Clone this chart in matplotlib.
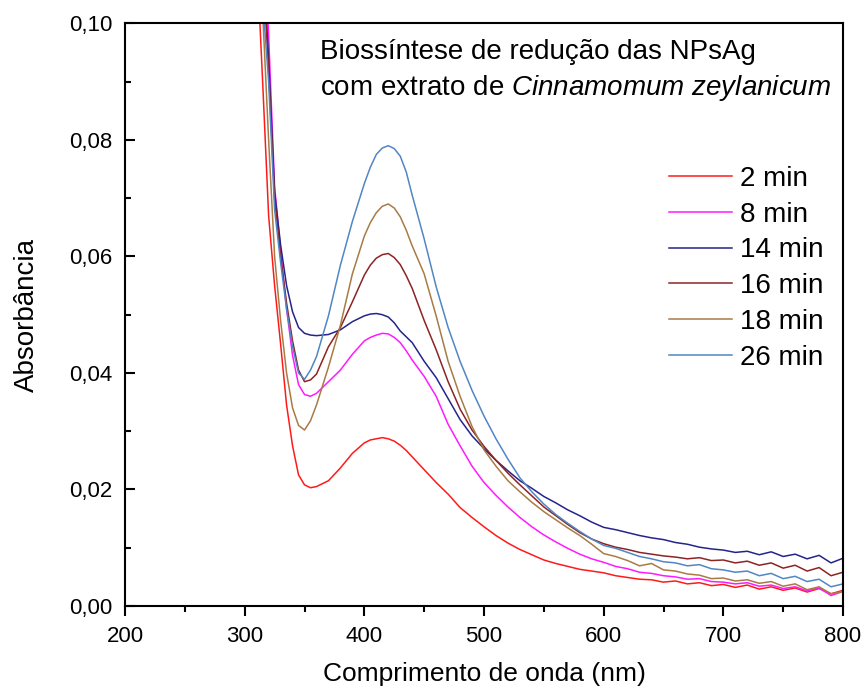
import matplotlib
matplotlib.use("Agg")
import matplotlib.pyplot as plt
from matplotlib.ticker import MultipleLocator, FuncFormatter

plt.rcParams['font.family'] = ['Liberation Sans', 'DejaVu Sans']
plt.rcParams['mathtext.fontset'] = 'custom'
plt.rcParams['mathtext.rm'] = 'Liberation Sans'
plt.rcParams['mathtext.it'] = 'Liberation Sans:italic'

# wavelength grid (nm)
wl = [300, 305, 310, 315, 320, 325, 330, 335, 340, 345, 350, 355, 360,
      370, 380, 390, 400, 405, 410, 415, 420, 425, 430, 435, 440, 450, 460, 470, 480, 490, 500,
      510, 520, 530, 540, 550, 560, 570, 580, 590, 600,
      610, 620, 630, 640, 650, 660, 670, 680, 690, 700,
      710, 720, 730, 740, 750, 760, 770, 780, 790, 800]

abs_2 = [0.160, 0.135, 0.112, 0.090, 0.067, 0.055, 0.045, 0.0345, 0.0275, 0.0225, 0.0208, 0.0203, 0.0205,
         0.0215, 0.0237, 0.0262, 0.0280, 0.0285, 0.0287, 0.0289, 0.0287, 0.0283, 0.0276, 0.0267, 0.0256,
         0.0234, 0.0212, 0.0192, 0.0169, 0.0152, 0.0136,
         0.0121, 0.0108, 0.0097, 0.0088, 0.0079, 0.0073, 0.0068, 0.0063, 0.0060, 0.0057,
         0.0052, 0.0049, 0.0046, 0.0045, 0.0041, 0.0043, 0.0038, 0.0040, 0.0035, 0.0037,
         0.0032, 0.0036, 0.0029, 0.0033, 0.0027, 0.0031, 0.0024, 0.0030, 0.0021, 0.0027]

abs_8 = [0.170, 0.148, 0.126, 0.118, 0.098, 0.072, 0.061, 0.051, 0.043, 0.038, 0.0363, 0.0360, 0.0365,
         0.0385, 0.0405, 0.0432, 0.0455, 0.0461, 0.0465, 0.0468, 0.0467, 0.0461, 0.0452, 0.0438, 0.0422,
         0.0394, 0.0360, 0.0312, 0.0275, 0.0240, 0.0212,
         0.0190, 0.0170, 0.0152, 0.0136, 0.0122, 0.0110, 0.0099, 0.0089, 0.0081, 0.0075,
         0.0068, 0.0064, 0.0058, 0.0056, 0.0052, 0.0050, 0.0046, 0.0047, 0.0042, 0.0041,
         0.0038, 0.0040, 0.0034, 0.0036, 0.0030, 0.0033, 0.0026, 0.0031, 0.0018, 0.0025]

abs_14 = [0.170, 0.145, 0.125, 0.112, 0.094, 0.071, 0.062, 0.055, 0.0505, 0.0478, 0.0468, 0.0465, 0.0464,
          0.0466, 0.0474, 0.0488, 0.0498, 0.0501, 0.0502, 0.0500, 0.0496, 0.0486, 0.0472, 0.0462, 0.0452,
          0.0420, 0.0392, 0.0356, 0.0320, 0.0292, 0.0270,
          0.0250, 0.0232, 0.0215, 0.0202, 0.0188, 0.0177, 0.0165, 0.0155, 0.0144, 0.0135,
          0.0131, 0.0126, 0.0121, 0.0117, 0.0114, 0.0109, 0.0106, 0.0101, 0.0098, 0.0096,
          0.0092, 0.0094, 0.0088, 0.0093, 0.0085, 0.0089, 0.0081, 0.0087, 0.0074, 0.0082]

abs_16 = [0.170, 0.145, 0.125, 0.110, 0.092, 0.070, 0.060, 0.052, 0.0455, 0.0405, 0.0385, 0.0388, 0.0398,
          0.0445, 0.0478, 0.0522, 0.0568, 0.0585, 0.0597, 0.0603, 0.0605, 0.0598, 0.0586, 0.0567, 0.0545,
          0.0490, 0.0440, 0.0385, 0.0338, 0.0302, 0.0274,
          0.0250, 0.0228, 0.0208, 0.0189, 0.0170, 0.0155, 0.0140, 0.0126, 0.0115, 0.0107,
          0.0101, 0.0097, 0.0092, 0.0089, 0.0086, 0.0084, 0.0081, 0.0083, 0.0078, 0.0079,
          0.0074, 0.0077, 0.0070, 0.0074, 0.0065, 0.0070, 0.0060, 0.0066, 0.0052, 0.0058]

abs_18 = [0.170, 0.140, 0.118, 0.102, 0.080, 0.060, 0.049, 0.040, 0.034, 0.031, 0.0302, 0.0318, 0.0345,
          0.0410, 0.0482, 0.0570, 0.0635, 0.0658, 0.0675, 0.0686, 0.0690, 0.0683, 0.0668, 0.0645, 0.0618,
          0.0570, 0.0498, 0.0420, 0.0360, 0.0308, 0.0268,
          0.0240, 0.0215, 0.0196, 0.0178, 0.0162, 0.0148, 0.0134, 0.0121, 0.0106, 0.0090,
          0.0085, 0.0078, 0.0069, 0.0073, 0.0062, 0.0060, 0.0055, 0.0053, 0.0047, 0.0048,
          0.0043, 0.0045, 0.0039, 0.0042, 0.0034, 0.0038, 0.0028, 0.0033, 0.0021, 0.0025]

abs_26 = [0.170, 0.145, 0.122, 0.104, 0.090, 0.068, 0.059, 0.051, 0.0445, 0.040, 0.0389, 0.0405, 0.0428,
          0.0498, 0.0585, 0.0660, 0.0725, 0.0753, 0.0775, 0.0786, 0.0790, 0.0785, 0.0772, 0.0745, 0.0705,
          0.0630, 0.0548, 0.0478, 0.0420, 0.0370, 0.0326,
          0.0287, 0.0252, 0.0220, 0.0196, 0.0175, 0.0157, 0.0142, 0.0128, 0.0115, 0.0104,
          0.0099, 0.0092, 0.0085, 0.0081, 0.0076, 0.0074, 0.0069, 0.0071, 0.0064, 0.0062,
          0.0058, 0.0060, 0.0052, 0.0056, 0.0047, 0.0051, 0.0042, 0.0046, 0.0033, 0.0038]

labels = ['2 min', '8 min', '14 min', '16 min', '18 min', '26 min']
series = [abs_2, abs_8, abs_14, abs_16, abs_18, abs_26]
colors = ['#ff1a1a', '#ff1aff', '#24248c', '#8c2424', '#a87b45', '#5186c4']

fig = plt.figure(figsize=(8.64, 6.90), dpi=100)
ax = fig.add_axes([0.1447, 0.1217, 0.831, 0.8445])

for y, c, lab in zip(series, colors, labels):
    ax.plot(wl, y, color=c, lw=1.1, label=lab)

ax.set_xlim(200, 800)
ax.set_ylim(0, 0.10)
ax.xaxis.set_major_locator(MultipleLocator(100))
ax.xaxis.set_minor_locator(MultipleLocator(50))
ax.yaxis.set_major_locator(MultipleLocator(0.02))
ax.yaxis.set_minor_locator(MultipleLocator(0.01))
ax.yaxis.set_major_formatter(FuncFormatter(lambda v, p: f'{v:.2f}'.replace('.', ',')))

for s in ax.spines.values():
    s.set_linewidth(1.5)
ax.tick_params(axis='x', which='both', direction='out', top=False, labelsize=16, pad=7)
ax.tick_params(axis='y', which='both', direction='in', right=False, labelsize=16, pad=9)
ax.tick_params(which='major', length=7.5, width=1.5)
ax.tick_params(which='minor', length=4, width=1.5)

ax.set_xlabel('Comprimento de onda (nm)', fontsize=19, labelpad=11)
ax.set_ylabel('Absorbância', fontsize=20, labelpad=21)

fig.text(320 / 864, 1 - 59 / 690, 'Biossíntese de redução das NPsAg',
         fontsize=20, va='baseline', ha='left')
fig.text(320 / 864, 1 - 95 / 690, 'com extrato de $Cinnamomum\\ zeylanicum$',
         fontsize=20, va='baseline', ha='left')

ax.legend(loc='upper left', bbox_to_anchor=(669 / 864, 1 - 166 / 690),
          bbox_transform=fig.transFigure, frameon=False, fontsize=20,
          handlelength=2.27, handletextpad=0.29, labelspacing=0.35,
          borderpad=0, borderaxespad=0)

fig.savefig('out.png', dpi=100)
